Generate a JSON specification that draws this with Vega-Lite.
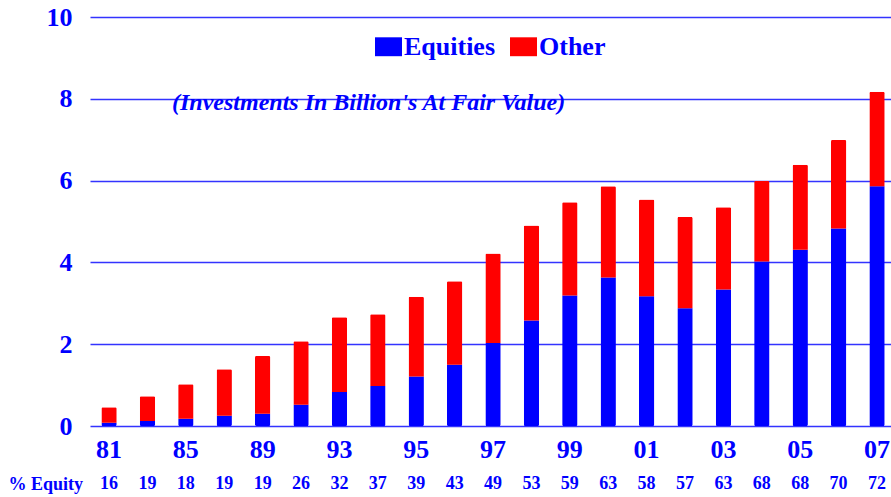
{
  "$schema": "https://vega.github.io/schema/vega-lite/v6.json",
  "autosize": "none",
  "width": 801,
  "height": 409,
  "padding": {"left": 90, "top": 17, "right": 0, "bottom": 71},
  "background": "white",
  "title": {
    "text": "(Investments In Billion's At Fair Value)",
    "anchor": "start",
    "frame": "group",
    "orient": "top",
    "offset": 0,
    "baseline": "middle",
    "dx": 82,
    "dy": 123,
    "font": "Liberation Serif",
    "fontSize": 24,
    "fontStyle": "italic",
    "fontWeight": "bold",
    "color": "#0000FF"
  },
  "data": {
    "values": [
      {"year": "81", "series": "Equities", "value": 0.08, "pct": 16},
      {"year": "81", "series": "Other", "value": 0.38, "pct": 16},
      {"year": "83", "series": "Equities", "value": 0.12, "pct": 19},
      {"year": "83", "series": "Other", "value": 0.61, "pct": 19},
      {"year": "85", "series": "Equities", "value": 0.18, "pct": 18},
      {"year": "85", "series": "Other", "value": 0.84, "pct": 18},
      {"year": "87", "series": "Equities", "value": 0.25, "pct": 19},
      {"year": "87", "series": "Other", "value": 1.14, "pct": 19},
      {"year": "89", "series": "Equities", "value": 0.30, "pct": 19},
      {"year": "89", "series": "Other", "value": 1.41, "pct": 19},
      {"year": "91", "series": "Equities", "value": 0.52, "pct": 26},
      {"year": "91", "series": "Other", "value": 1.55, "pct": 26},
      {"year": "93", "series": "Equities", "value": 0.83, "pct": 32},
      {"year": "93", "series": "Other", "value": 1.83, "pct": 32},
      {"year": "94", "series": "Equities", "value": 0.98, "pct": 37},
      {"year": "94", "series": "Other", "value": 1.75, "pct": 37},
      {"year": "95", "series": "Equities", "value": 1.21, "pct": 39},
      {"year": "95", "series": "Other", "value": 1.95, "pct": 39},
      {"year": "96", "series": "Equities", "value": 1.50, "pct": 43},
      {"year": "96", "series": "Other", "value": 2.04, "pct": 43},
      {"year": "97", "series": "Equities", "value": 2.03, "pct": 49},
      {"year": "97", "series": "Other", "value": 2.19, "pct": 49},
      {"year": "98", "series": "Equities", "value": 2.58, "pct": 53},
      {"year": "98", "series": "Other", "value": 2.32, "pct": 53},
      {"year": "99", "series": "Equities", "value": 3.19, "pct": 59},
      {"year": "99", "series": "Other", "value": 2.28, "pct": 59},
      {"year": "00", "series": "Equities", "value": 3.63, "pct": 63},
      {"year": "00", "series": "Other", "value": 2.23, "pct": 63},
      {"year": "01", "series": "Equities", "value": 3.17, "pct": 58},
      {"year": "01", "series": "Other", "value": 2.37, "pct": 58},
      {"year": "02", "series": "Equities", "value": 2.88, "pct": 57},
      {"year": "02", "series": "Other", "value": 2.23, "pct": 57},
      {"year": "03", "series": "Equities", "value": 3.34, "pct": 63},
      {"year": "03", "series": "Other", "value": 2.01, "pct": 63},
      {"year": "04", "series": "Equities", "value": 4.02, "pct": 68},
      {"year": "04", "series": "Other", "value": 1.97, "pct": 68},
      {"year": "05", "series": "Equities", "value": 4.31, "pct": 68},
      {"year": "05", "series": "Other", "value": 2.08, "pct": 68},
      {"year": "06", "series": "Equities", "value": 4.83, "pct": 70},
      {"year": "06", "series": "Other", "value": 2.16, "pct": 70},
      {"year": "07", "series": "Equities", "value": 5.86, "pct": 72},
      {"year": "07", "series": "Other", "value": 2.31, "pct": 72}
    ]
  },
  "config": {
    "view": {"stroke": null},
    "font": "Liberation Serif"
  },
  "encoding": {
    "x": {
      "field": "year",
      "type": "nominal",
      "sort": null,
      "scale": {"paddingInner": 0.6, "paddingOuter": 0.23, "align": 0.643},
      "axis": {
        "values": ["81", "85", "89", "93", "95", "97", "99", "01", "03", "05", "07"],
        "labelAngle": 0,
        "domain": false,
        "ticks": false,
        "labelPadding": 10,
        "labelFont": "Liberation Serif",
        "labelFontSize": 26,
        "labelFontWeight": "bold",
        "labelColor": "#0000FF",
        "title": "% Equity",
        "titleFont": "Liberation Serif",
        "titleFontSize": 18,
        "titleFontWeight": "bold",
        "titleColor": "#0000FF",
        "titleX": -82,
        "titleY": 58,
        "titleAlign": "left",
        "titleBaseline": "middle",
        "titleAnchor": null
      }
    }
  },
  "layer": [
    {
      "mark": {"type": "bar", "cornerRadius": 1.5},
      "encoding": {
        "y": {
          "field": "value",
          "type": "quantitative",
          "stack": "zero",
          "scale": {"domain": [0, 10], "nice": false},
          "axis": {
            "values": [0, 2, 4, 6, 8, 10],
            "title": null,
            "domain": false,
            "ticks": false,
            "grid": true,
            "gridColor": "#3333FF",
            "gridWidth": 1.6,
            "gridOpacity": 1,
            "labelPadding": 18,
            "labelFont": "Liberation Serif",
            "labelFontSize": 26,
            "labelFontWeight": "bold",
            "labelColor": "#0000FF"
          }
        },
        "color": {
          "field": "series",
          "type": "nominal",
          "scale": {"domain": ["Equities", "Other"], "range": ["#0000FF", "#FF0000"]},
          "legend": {
            "title": null,
            "orient": "none",
            "direction": "horizontal",
            "legendX": 285,
            "legendY": 16,
            "symbolType": "M-1,-0.7H1V0.7H-1Z",
            "symbolSize": 729,
            "symbolStrokeWidth": 0,
            "symbolOpacity": 1,
            "labelFont": "Liberation Serif",
            "labelFontSize": 26,
            "labelFontWeight": "bold",
            "labelColor": "#0000FF",
            "labelOffset": 2,
            "columnPadding": 14
          }
        },
        "order": {"field": "series", "sort": "ascending"}
      }
    },
    {
      "transform": [{"filter": "datum.series === 'Equities'"}],
      "mark": {
        "type": "text",
        "dy": 58,
        "baseline": "middle",
        "font": "Liberation Serif",
        "fontSize": 18,
        "fontWeight": "bold",
        "color": "#0000FF"
      },
      "encoding": {
        "y": {"datum": 0},
        "text": {"field": "pct", "type": "quantitative"}
      }
    }
  ]
}
